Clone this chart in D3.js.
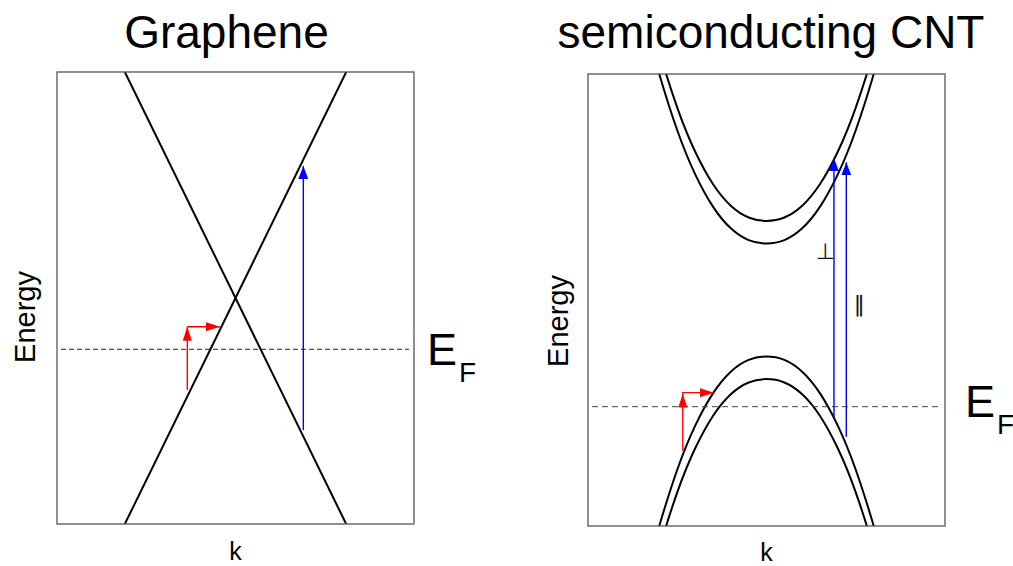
<!DOCTYPE html>
<html>
<head>
<meta charset="utf-8">
<script src="https://cdn.jsdelivr.net/npm/d3@7"></script>
<style>
  html, body { margin: 0; padding: 0; background: #fff; }
  svg { display: block; font-family: "Liberation Sans", Arial, sans-serif; }
</style>
</head>
<body>
<svg id="chart" width="1013" height="566"></svg>
<script>
// ---- data (arbitrary units: wave vector k and energy E, both spanning [-1, 1]) ----
const kDomain = [-1, 1];
const eDomain = [-1, 1];

const panelTitles = ["Graphene", "semiconducting CNT"];
const axisLabels = { x: "k", y: "Energy" };
const fermiLabel = { main: "E", sub: "F" };

// Graphene: two linear bands crossing at the Dirac point
const grapheneBandUp = [[-0.62, -1.0], [0.62, 1.0]];
const grapheneBandDown = [[-0.62, 1.0], [0.62, -1.0]];
const grapheneFermi = -0.227;

// Semiconducting CNT: two conduction and two valence subbands
const cntK  = [-0.65, -0.6, -0.5, -0.4, -0.3, -0.2, -0.1, 0, 0.1, 0.2, 0.3, 0.4, 0.5, 0.6, 0.65];
const cntC1 = [1.143, 0.998, 0.751, 0.557, 0.413, 0.317, 0.265, 0.25, 0.265, 0.317, 0.413, 0.557, 0.751, 0.998, 1.143];
const cntC2 = [1.243, 1.098, 0.851, 0.657, 0.513, 0.417, 0.365, 0.35, 0.365, 0.417, 0.513, 0.657, 0.851, 1.098, 1.243];
const cntV1 = [-1.143, -0.998, -0.751, -0.557, -0.413, -0.317, -0.265, -0.25, -0.265, -0.317, -0.413, -0.557, -0.751, -0.998, -1.143];
const cntV2 = [-1.243, -1.098, -0.851, -0.657, -0.513, -0.417, -0.365, -0.35, -0.365, -0.417, -0.513, -0.657, -0.851, -1.098, -1.243];
const cntFermi = -0.472;

// Transitions: [k start, E start, k end, E end]
const grapheneIntraband = [[-0.27, -0.407, -0.27, -0.127], [-0.27, -0.127, -0.087, -0.127]];
const grapheneInterband = [[0.38, -0.584, 0.38, 0.584]];
const cntIntraband = [[-0.469, -0.667, -0.469, -0.414], [-0.474, -0.41, -0.294, -0.41]];
const cntInterband = [[0.378, -0.521, 0.378, 0.627], [0.447, -0.605, 0.447, 0.609]];
const polarizationLabels = ["\u22A5", "\u2016"];
const polarizationAnchors = [[0.33, 0.18], [0.52, -0.05]];

// ---- drawing ----
const svg = d3.select("#chart");
const defs = svg.append("defs");

function marker(id, color, len, wid) {
  defs.append("marker")
    .attr("id", id)
    .attr("markerUnits", "userSpaceOnUse")
    .attr("viewBox", `0 0 ${len} ${wid}`)
    .attr("refX", len).attr("refY", wid / 2)
    .attr("markerWidth", len).attr("markerHeight", wid)
    .attr("orient", "auto")
    .append("path")
    .attr("d", `M0,0 L${len},${wid / 2} L0,${wid} Z`)
    .attr("fill", color);
}
marker("headRed", "#ff0000", 14, 9);
marker("headBlue", "#0000ff", 13, 10);

function makePanel(opts) {
  const x = d3.scaleLinear().domain(kDomain).range([opts.left, opts.right]);
  const y = d3.scaleLinear().domain(eDomain).range([opts.bottom, opts.top]);
  const g = svg.append("g");

  const clipId = "clip" + opts.id;
  defs.append("clipPath").attr("id", clipId)
    .append("rect")
    .attr("x", opts.left).attr("y", opts.top)
    .attr("width", opts.right - opts.left).attr("height", opts.bottom - opts.top);

  // title
  svg.append("text")
    .attr("x", opts.titleX).attr("y", 48)
    .attr("text-anchor", "middle")
    .attr("font-size", 46)
    .attr("fill", "#000")
    .text(opts.title);

  // axis labels
  svg.append("text")
    .attr("transform", `translate(${opts.energyX},${opts.energyY}) rotate(-90)`)
    .attr("text-anchor", "middle")
    .attr("dominant-baseline", "central")
    .attr("font-size", 29)
    .text(axisLabels.y);
  svg.append("text")
    .attr("x", x(0)).attr("y", opts.kY)
    .attr("text-anchor", "middle")
    .attr("font-size", 25)
    .text(axisLabels.x);

  const plot = g.append("g").attr("clip-path", `url(#${clipId})`);

  // Fermi level
  g.append("line")
    .attr("x1", opts.left + 4).attr("x2", opts.right - 5)
    .attr("y1", y(opts.fermi)).attr("y2", y(opts.fermi))
    .attr("stroke", opts.dashColor).attr("stroke-width", 1)
    .attr("stroke-dasharray", opts.dash);

  // bands
  const line = d3.line().x(d => x(d[0])).y(d => y(d[1])).curve(opts.curve);
  opts.bands.forEach(b => {
    plot.append("path").attr("d", line(b))
      .attr("fill", "none").attr("stroke", "#000").attr("stroke-width", 2);
  });

  // transitions
  function arrows(list, color, head, width) {
    list.forEach(a => {
      g.append("line")
        .attr("x1", x(a[0])).attr("y1", y(a[1]))
        .attr("x2", x(a[2])).attr("y2", y(a[3]))
        .attr("stroke", color).attr("stroke-width", width)
        .attr("marker-end", `url(#${head})`);
    });
  }
  arrows(opts.intra, "#ff0000", "headRed", 1.4);
  arrows(opts.inter, "#0000ff", "headBlue", 1.4);

  // frame
  g.append("rect")
    .attr("x", opts.left).attr("y", opts.top)
    .attr("width", opts.right - opts.left).attr("height", opts.bottom - opts.top)
    .attr("fill", "none").attr("stroke", "#555").attr("stroke-width", 1.3);

  // E_F label
  const ef = svg.append("text")
    .attr("x", opts.efX).attr("y", opts.efY)
    .attr("font-size", 45).attr("fill", "#000");
  ef.append("tspan").text(fermiLabel.main);
  ef.append("tspan").attr("font-size", 28).attr("dy", opts.efSubDy).attr("dx", 2).text(fermiLabel.sub);

  return { x, y, g };
}

makePanel({
  id: "G", title: panelTitles[0], titleX: 226.5,
  left: 57, right: 414, top: 72, bottom: 524,
  energyX: 25, energyY: 317, kY: 560,
  fermi: grapheneFermi, dash: "5,3", dashColor: "#222",
  curve: d3.curveLinear,
  bands: [grapheneBandUp, grapheneBandDown],
  intra: grapheneIntraband, inter: grapheneInterband,
  efX: 427, efY: 365, efSubDy: 17
});

const cnt = makePanel({
  id: "C", title: panelTitles[1], titleX: 771,
  left: 588, right: 945, top: 74, bottom: 526,
  energyX: 558, energyY: 321, kY: 561,
  fermi: cntFermi, dash: "6,4", dashColor: "#444",
  curve: d3.curveNatural,
  bands: [cntC1, cntC2, cntV1, cntV2].map(es => cntK.map((k, i) => [k, es[i]])),
  intra: cntIntraband, inter: cntInterband,
  efX: 965, efY: 417, efSubDy: 17
});

// polarization labels next to the interband transitions
cnt.g.selectAll("text.pol")
  .data(polarizationLabels)
  .join("text")
  .attr("class", "pol")
  .attr("x", (d, i) => cnt.x(polarizationAnchors[i][0]))
  .attr("y", (d, i) => cnt.y(polarizationAnchors[i][1]))
  .attr("text-anchor", "middle")
  .attr("font-size", 22)
  .attr("font-family", "DejaVu Sans")
  .attr("fill", "#111")
  .text(d => d);
</script>
</body>
</html>
